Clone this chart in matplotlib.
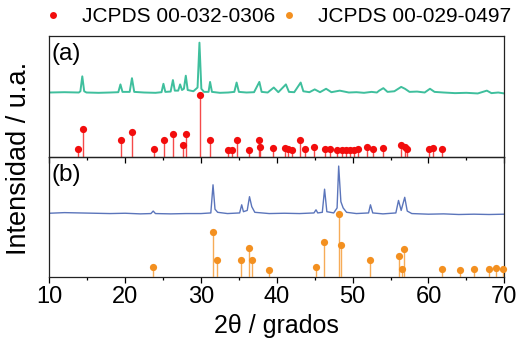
import matplotlib
matplotlib.use("Agg")
import matplotlib.pyplot as plt
from matplotlib.lines import Line2D
from matplotlib.ticker import MultipleLocator

plt.rcParams['font.family'] = ['Liberation Sans', 'DejaVu Sans']

# ---- reference sticks (2theta, relative intensity) ----
red_pos = [13.75, 14.40, 19.42, 20.91, 23.81, 25.17, 26.35, 27.59, 27.99, 29.83,
           31.19, 33.61, 34.05, 34.71, 36.37, 37.65, 37.83, 39.54, 41.08, 41.52,
           41.97, 43.06, 43.72, 44.95, 46.36, 47.02, 47.90, 48.56, 49.13, 49.65,
           50.18, 50.75, 51.94, 52.73, 53.97, 56.34, 56.91, 57.21, 60.11, 60.64,
           61.79]
red_int = [14, 45, 27, 41, 14, 27, 37, 20, 37, 100,
           27, 11, 12, 27, 12, 27, 17, 15, 15, 14,
           12, 27, 13, 17, 14, 13, 11, 12, 12, 12,
           11, 14, 17, 14, 15, 19, 16, 14, 14, 15,
           13]

orange_pos = [23.71, 31.59, 32.08, 35.32, 36.34, 36.73, 38.93, 45.17, 46.27, 48.16,
              48.47, 52.29, 56.08, 56.47, 56.82, 61.83, 64.12, 66.01, 67.99, 68.91,
              69.79]
orange_int = [16, 71, 27, 26, 46, 27, 11, 16, 56, 100,
              51, 27, 33, 13, 44, 12, 10, 12, 12, 14,
              12]

curve_a_x = [10.0, 12.0, 13.9, 14.1, 14.35, 14.6, 14.9, 16.5, 18.0, 19.1, 19.38, 19.65,
             20.6, 20.9, 21.2, 22.5, 24.0, 24.8, 25.05, 25.3, 26.0, 26.3, 26.55, 27.0,
             27.25, 27.5, 27.75, 28.0, 28.25, 29.0, 29.55, 29.8, 30.05, 30.4, 31.0, 31.2,
             31.45, 32.5, 33.6, 34.4, 34.7, 35.0, 36.0, 37.0, 37.7, 38.0, 38.8, 39.6,
             40.2, 41.2, 41.6, 42.3, 43.15, 43.5, 44.3, 45.0, 45.7, 46.5, 47.2, 48.3,
             49.5, 50.5, 51.5, 52.5, 53.2, 53.5, 54.05, 54.6, 55.5, 56.4, 56.9, 57.5,
             58.5, 59.5, 60.2, 60.8, 62.0, 63.5, 65.0, 66.5, 67.7, 68.3, 69.2, 70.0]
curve_a_y = [104, 104.5, 104, 106, 130, 106, 104, 103.5, 104, 104.5, 117, 105,
             105, 127, 105, 104, 103.5, 104.5, 118, 105, 105.5, 124, 107, 107,
             117, 108, 110, 131, 108, 106, 112, 184, 110, 105, 105, 121,
             105, 103.5, 104, 105, 120, 105, 104, 104.5, 121, 105, 104, 112,
             104.5, 117, 105, 104.5, 120, 106, 104.5, 109, 104.5, 110, 104.5, 107,
             104, 104.5, 103.5, 105, 104, 107, 111, 105, 106, 113, 110, 105,
             105.5, 104, 110, 105, 104, 103, 103.5, 102.5, 107, 103, 104, 102.5]

curve_b_x = [10, 12, 14, 16, 18, 20, 22, 23.4, 23.7, 24.0, 26, 28, 30, 31.3, 31.59,
             31.85, 32.2, 33.5, 35.1, 35.37, 35.6, 36.1, 36.4, 36.7, 37.1, 39, 41, 43,
             44.9, 45.17, 45.4, 46.0, 46.3, 46.6, 47.5, 47.95, 48.16, 48.45, 48.75, 49.2,
             50.5, 52.1, 52.35, 52.65, 54, 55.7, 56.05, 56.4, 56.87, 57.2, 57.8, 60, 62,
             64, 66, 68, 70]
curve_b_y = [101.5, 102.5, 102, 101.5, 101, 101.5, 100.5, 101, 105, 101, 100.5, 101,
             101, 102, 147, 108, 103, 101, 102, 115, 104, 106, 128, 112, 103, 101,
             101.5, 101, 102, 107, 102, 103, 140, 104, 102, 110, 177, 120, 110, 103,
             101, 102, 115, 102, 100.5, 102, 122, 106, 127, 105, 101, 100, 100.5,
             99.5, 100, 99.5, 100]

legend_labels = ['JCPDS 00-032-0306', 'JCPDS 00-029-0497']
panel_labels = ['(a)', '(b)']

RED = '#f20d0d'
ORANGE = '#f39020'
GREEN = '#3fbf9d'
BLUE = '#5b75bb'

W, H = 518, 343
fig = plt.figure(figsize=(W / 100, H / 100), dpi=100)
left, right = 49.3 / W, 504.3 / W
top, bottom = 1 - 36 / H, 1 - 276.7 / H
mid = 1 - 157.3 / H
ax_a = fig.add_axes([left, mid, right - left, top - mid])
ax_b = fig.add_axes([left, bottom, right - left, mid - bottom])

for ax, curx, cury, ccol, spos, sint, scol, ylim, lab in [
        (ax_a, curve_a_x, curve_a_y, GREEN, red_pos, red_int, RED, 194.7, panel_labels[0]),
        (ax_b, curve_b_x, curve_b_y, BLUE, orange_pos, orange_int, ORANGE, 191.0, panel_labels[1])]:
    ax.patch.set_alpha(0)
    ax.plot(curx, cury, color=ccol, lw=1.4 if ax is ax_a else 1.0, zorder=2)
    ax.vlines(spos, 0, sint, color=scol, lw=1.0, alpha=0.75, zorder=3)
    ax.plot(spos, sint, 'o', color=scol, ms=5.2, mec='none', zorder=4, clip_on=False)
    ax.set_xlim(10, 70)
    ax.set_ylim(0, ylim)
    ax.set_yticks([])
    ax.xaxis.set_major_locator(MultipleLocator(10))
    ax.xaxis.set_minor_locator(MultipleLocator(5))
    ax.tick_params(axis='x', which='major', direction='out', length=4, width=0.9,
                   labelsize=17, pad=3)
    ax.tick_params(axis='x', which='minor', direction='out', length=2.2, width=0.9)
    for s in ax.spines.values():
        s.set_linewidth(0.9)
        s.set_color('#222222')
    ax.text(0.004, 0.94, lab, transform=ax.transAxes, ha='left', va='top', fontsize=17.5)

ax_a.tick_params(axis='x', labelbottom=False)
ax_b.set_xlabel('2θ / grados', fontsize=18, labelpad=4)
fig.text(19 / W, (top + bottom) / 2 - 0.005, 'Intensidad / u.a.', rotation=90,
         ha='center', va='center', fontsize=19.5)

handles = [Line2D([], [], ls='none', marker='o', color=RED, ms=5, mec='none'),
           Line2D([], [], ls='none', marker='o', color=ORANGE, ms=5, mec='none')]
fig.legend(handles, legend_labels, loc='center', bbox_to_anchor=(0.535, 1 - 17 / H),
           ncol=2, frameon=False, fontsize=15, handlelength=1.0,
           handletextpad=0.9, columnspacing=0.15, borderpad=0, borderaxespad=0)

fig.savefig('out.png', dpi=100)
